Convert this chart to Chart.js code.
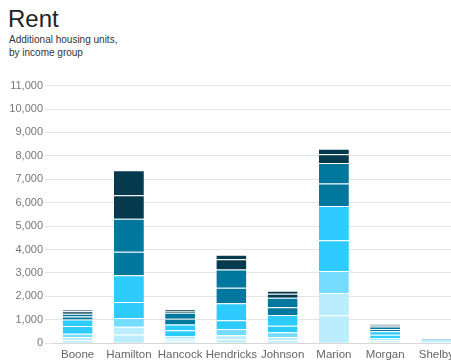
<!DOCTYPE html>
<html>
<head>
<meta charset="utf-8">
<title>Rent</title>
<script src="https://cdn.jsdelivr.net/npm/chart.js@4"></script>
<style>
  html, body { margin: 0; padding: 0; background: #fff; overflow: hidden; }
  body { width: 451px; height: 360px; position: relative; font-family: "Liberation Sans", Arial, sans-serif; }
  h1 { position: absolute; left: 8px; top: 5px; margin: 0; font-size: 24px; font-weight: normal; color: #222; }
  .sub { position: absolute; left: 9px; top: 33px; font-size: 10px; line-height: 13px; color: #333; }
  .wrap { position: absolute; left: 0; top: 77px; width: 462px; height: 290px; }
</style>
</head>
<body>
<h1>Rent</h1>
<div class="sub">Additional housing units,<br>by income group</div>
<div class="wrap"><canvas id="rentChart"></canvas></div>
<script>
const counties = ["Boone", "Hamilton", "Hancock", "Hendricks", "Johnson", "Marion", "Morgan", "Shelby"];

// units by income group, lowest income first
const group1 = [140, 370, 100, 170, 140, 1190, 60, 20];
const group2 = [130, 330, 100, 170, 120, 950, 70, 20];
const group3 = [130, 380, 100, 270, 210, 940, 80, 20];
const group4 = [330, 680, 250, 370, 270, 1320, 150, 40];
const group5 = [280, 1140, 250, 730, 460, 1460, 150, 30];
const group6 = [130, 1000, 240, 660, 340, 960, 100, 30];
const group7 = [120, 1410, 260, 780, 400, 870, 100, 30];
const group8 = [100, 1010, 80, 430, 170, 380, 50, 10];
const group9 = [80, 1060, 60, 200, 130, 230, 50, 10];

const groupNames = ["0-30% AMI", "31-50% AMI", "51-60% AMI", "61-70% AMI", "71-80% AMI",
                    "81-90% AMI", "91-100% AMI", "101-110% AMI", "111-120% AMI"];
const groupColors = ["#b9edfd", "#b9edfd", "#74dcff", "#2ecbff", "#2ecbff",
                     "#00779c", "#00779c", "#053a4e", "#053a4e"];
const groupValues = [group1, group2, group3, group4, group5, group6, group7, group8, group9];

const yTicks = { min: 0, max: 11000, step: 1000 };

document.addEventListener("DOMContentLoaded", () => {
    const ctx = document.getElementById("rentChart").getContext("2d");

    new Chart(ctx, {
        type: "bar",
        data: {
            labels: counties,
            datasets: groupValues.map((vals, i) => ({
                label: groupNames[i],
                data: vals,
                backgroundColor: groupColors[i],
                borderColor: "rgba(255,255,255,0.14)",
                borderWidth: {top: 1, left: 0, right: 0, bottom: 0},
                borderSkipped: false,
                barPercentage: 0.585,
                categoryPercentage: 1
            }))
        },
        options: {
            responsive: true,
            maintainAspectRatio: false,
            animation: false,
            layout: {padding: {top: 7, right: 0, left: 0, bottom: 0}},
            plugins: {legend: {display: false}, tooltip: {enabled: false}},
            scales: {
                x: {
                    stacked: true,
                    grid: {display: false, drawTicks: false, tickLength: 0},
                    border: {color: "#d6d6d6"},
                    ticks: {
                        color: "#666",
                        font: {family: "Liberation Sans", size: 11.5},
                        padding: 5,
                        maxRotation: 0,
                        minRotation: 0,
                        autoSkip: false
                    }
                },
                y: {
                    stacked: true,
                    min: yTicks.min,
                    max: yTicks.max,
                    border: {display: false},
                    grid: {color: "#e4e4e4", tickLength: 7},
                    ticks: {
                        stepSize: yTicks.step,
                        color: "#777",
                        padding: 2,
                        font: {family: "Liberation Sans", size: 11},
                        callback: v => v.toLocaleString("en-US")
                    },
                    afterFit: scale => { scale.width = 52; }
                }
            }
        }
    });
});
</script>
</body>
</html>
